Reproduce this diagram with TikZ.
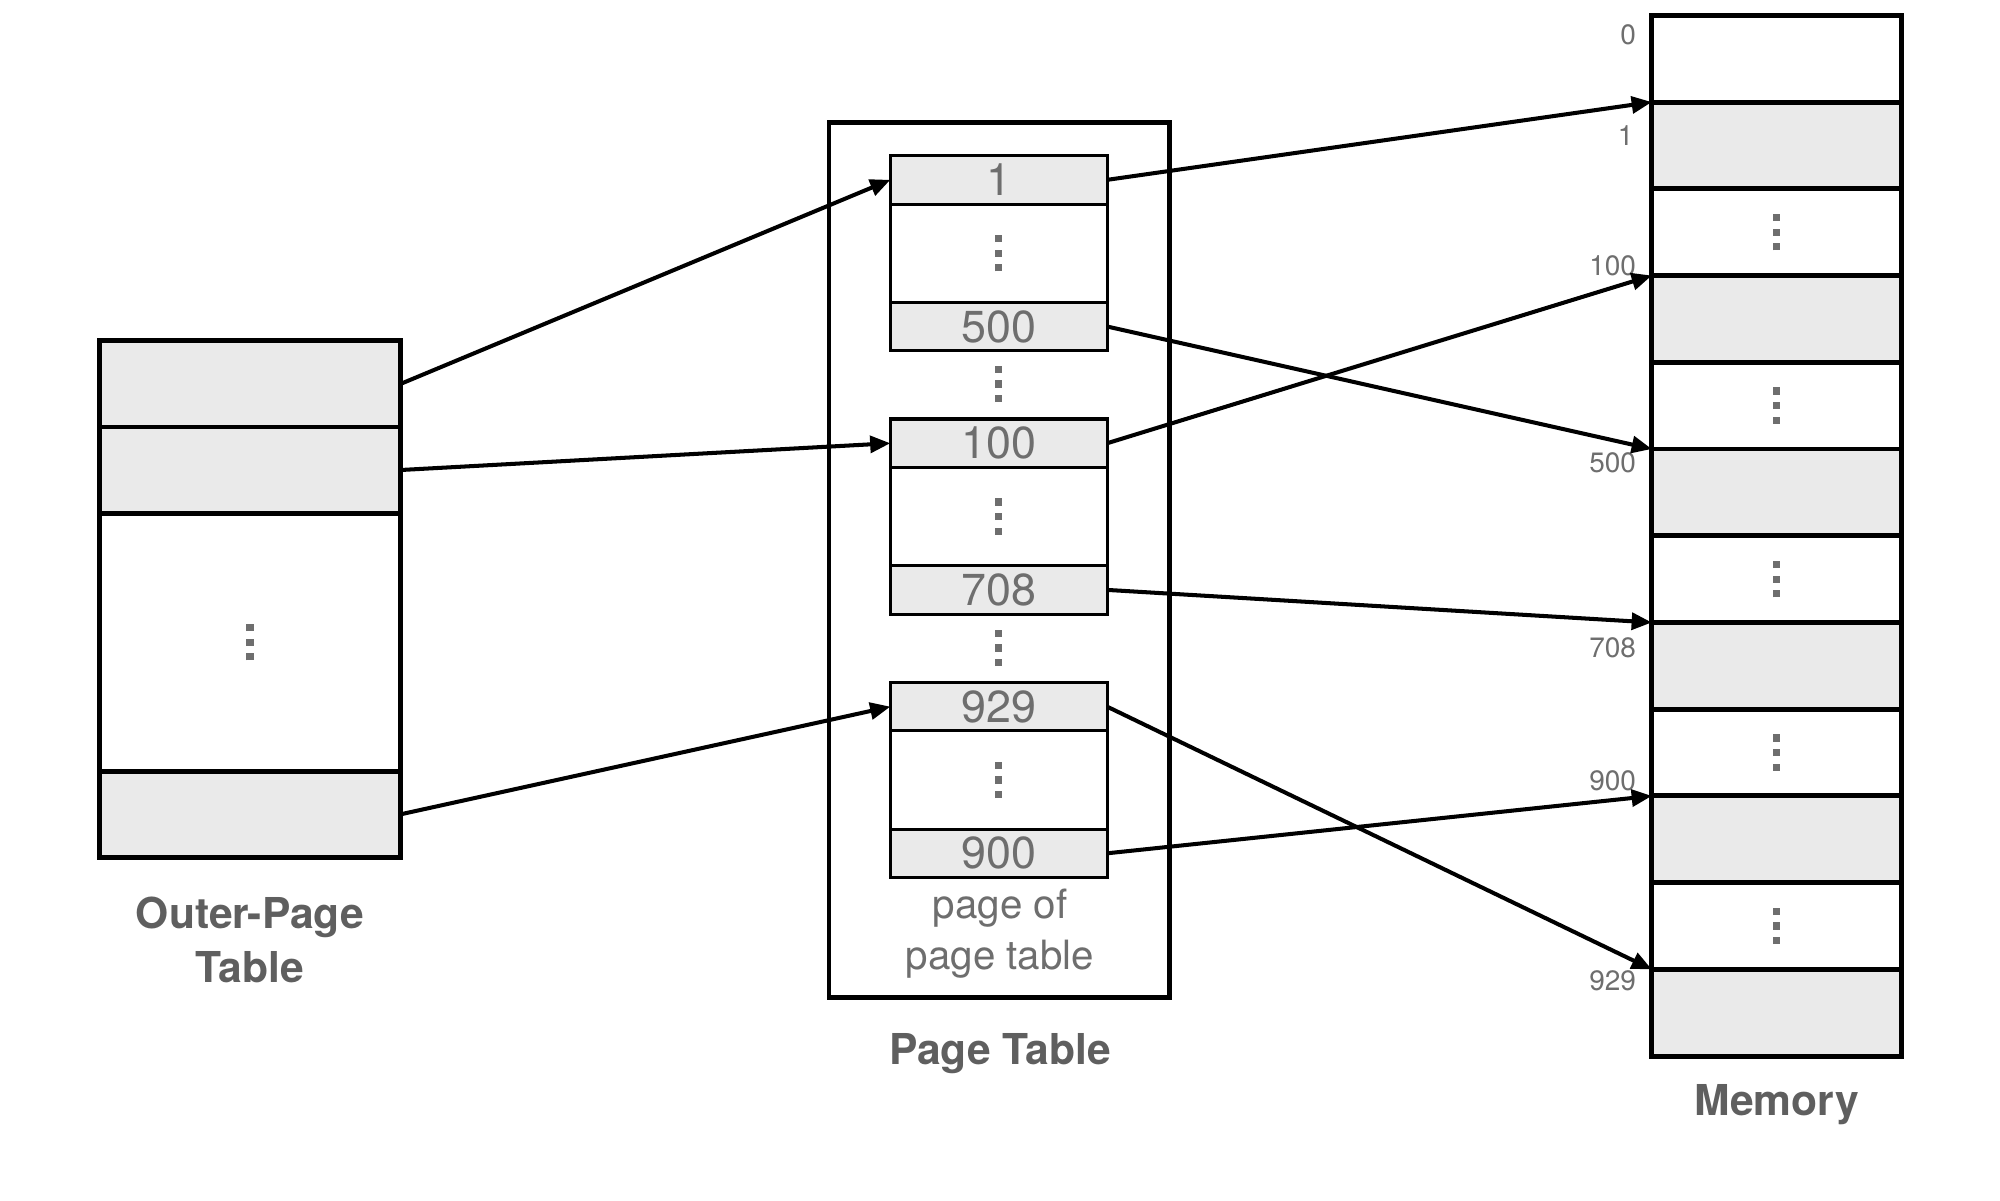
\documentclass[tikz,border=0pt]{standalone}
\usepackage{xcolor}
\usepackage{fontspec}
\setmainfont{TeX Gyre Heros}
\usepackage{tikz}
\usetikzlibrary{arrows.meta, positioning}
\definecolor{cellgray}{HTML}{EAEAEA}
\definecolor{labelgray}{HTML}{5F5F5F}
\definecolor{numgray}{HTML}{6E6E6E}
\newcommand{\sqdots}{\vbox{\offinterlineskip\hbox{\rule{3.2pt}{3.2pt}}\kern3.3pt\hbox{\rule{3.2pt}{3.2pt}}\kern3.3pt\hbox{\rule{3.2pt}{3.2pt}}}}
\tikzstyle{outerrow} = [rectangle, draw=black, line width=2.2pt, minimum width=4.72cm, minimum height=1.35cm, inner sep=0pt, outer sep=0pt, text=numgray]
\tikzstyle{outerfull} = [outerrow, fill=cellgray]
\tikzstyle{ptrow} = [rectangle, draw=black, line width=1.4pt, minimum width=3.4cm, minimum height=0.76cm, inner sep=0pt, outer sep=0pt, text=numgray, font=\fontsize{20}{20}\selectfont]
\tikzstyle{ptfull} = [ptrow, fill=cellgray]
\tikzstyle{ptgap} = [ptrow, minimum height=1.54cm]
\tikzstyle{memrow} = [rectangle, draw=black, line width=2.2pt, minimum width=3.92cm, minimum height=1.36cm, inner sep=0pt, outer sep=0pt, text=numgray]
\tikzstyle{memfull} = [memrow, fill=cellgray]
\tikzstyle{addr} = [anchor=east, inner sep=0pt, text=numgray, font=\fontsize{12.5}{12.5}\selectfont]
\tikzstyle{title} = [align=center, inner sep=0pt, text=labelgray, font=\bfseries\fontsize{19}{24}\selectfont]
\tikzstyle{arrow} = [line width=1.8pt, -{Triangle[length=9pt, width=7.5pt]}]
\begin{document}
\begin{tikzpicture}[x=0.02cm, y=-0.02cm]
            \useasboundingbox (0,0) rectangle (1568,941);
            % Outer-page table
            \node[outerfull] (outer1) at (196, 301) {};
            \node[outerfull, below=0pt of outer1] (outer2) {};
            \node[outerrow, minimum height=4.05cm, below=0pt of outer2] (outerdots) {\sqdots};
            \node[outerfull, below=0pt of outerdots] (outer4) {};
            \node[title] (outerlabel) at (196, 737) {Outer-Page\\Table};

            % Page table with three pages
            \node[draw=black, line width=2pt, minimum width=5.34cm, minimum height=13.72cm, outer sep=0pt] (ptframe) at (783.5, 439) {};
            \node[ptfull] (p1) at (783, 141) {1};
            \node[ptgap, below=0pt of p1] (p1dots) {\sqdots};
            \node[ptfull, below=0pt of p1dots] (p500) {500};
            \node[text=numgray, inner sep=0pt] (gap1) at (783, 301) {\sqdots};
            \node[ptfull] (p100) at (783, 347.5) {100};
            \node[ptgap, below=0pt of p100] (p100dots) {\sqdots};
            \node[ptfull, below=0pt of p100dots] (p708) {708};
            \node[text=numgray, inner sep=0pt] (gap2) at (783, 508) {\sqdots};
            \node[ptfull] (p929) at (783, 554) {929};
            \node[ptgap, below=0pt of p929] (p929dots) {\sqdots};
            \node[ptfull, below=0pt of p929dots] (p900) {900};
            \node[align=center, inner sep=0pt, text=numgray, font=\fontsize{18}{23}\selectfont] (pplabel) at (784, 732) {page of\\page table};
            \node[title] (ptlabel) at (784, 826) {Page Table};

            % Memory
            \foreach \i/\kind/\txt in {1/memrow/{}, 2/memfull/{}, 3/memrow/\sqdots, 4/memfull/{}, 5/memrow/\sqdots, 6/memfull/{}, 7/memrow/\sqdots, 8/memfull/{}, 9/memrow/\sqdots, 10/memfull/{}, 11/memrow/\sqdots, 12/memfull/{}}
                \node[\kind] (m\i) at (1393, {68*\i-22}) {\txt};
            \node[title] (memlabel) at (1393, 866) {Memory};
            \node[addr] (a0) at (1283, 27) {0};
            \node[addr] (a1) at (1281, 106) {1};
            \node[addr] (a100) at (1283, 208) {100};
            \node[addr] (a500) at (1283, 363) {500};
            \node[addr] (a708) at (1283, 508) {708};
            \node[addr] (a900) at (1283, 612) {900};
            \node[addr] (a929) at (1283, 769) {929};

            % Arrows
            \draw[arrow] (outer1.east) -- (p1.west);
            \draw[arrow] (outer2.east) -- (p100.west);
            \draw[arrow] (outer4.east) -- (p929.west);
            \draw[arrow] (p1.east) -- (m2.north west);
            \draw[arrow] (p500.east) -- (m6.north west);
            \draw[arrow] (p100.east) -- (m4.north west);
            \draw[arrow] (p708.east) -- (m8.north west);
            \draw[arrow] (p929.east) -- (m12.north west);
            \draw[arrow] (p900.east) -- (m10.north west);
        \end{tikzpicture}
\end{document}
